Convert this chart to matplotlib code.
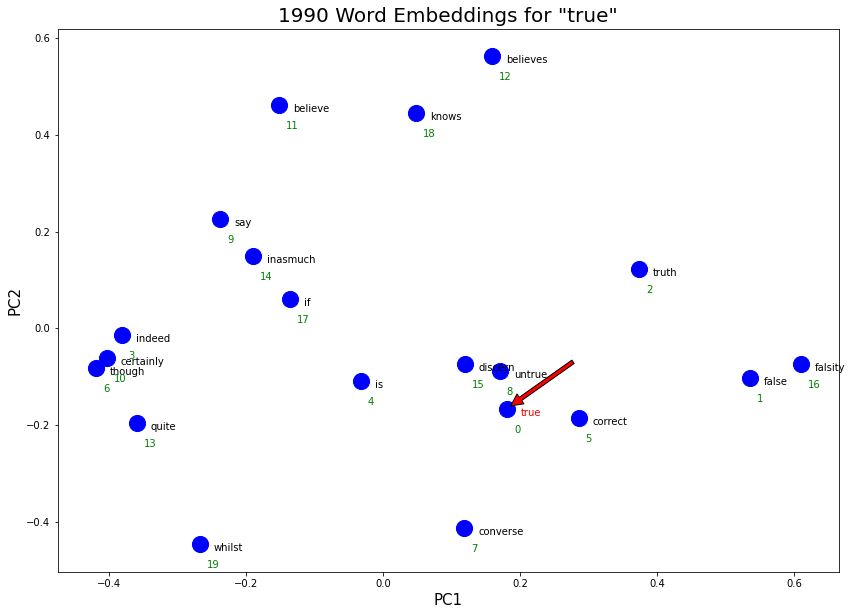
import matplotlib
matplotlib.use("Agg")
import matplotlib.pyplot as plt

words = ["true", "false", "truth", "indeed", "is", "correct", "though", "converse",
         "untrue", "say", "certainly", "believe", "believes", "quite", "inasmuch",
         "discern", "falsity", "if", "knows", "whilst"]
pc1 = [0.181, 0.535, 0.373, -0.382, -0.033, 0.285, -0.419, 0.118,
       0.170, -0.238, -0.404, -0.152, 0.159, -0.360, -0.190,
       0.119, 0.610, -0.136, 0.048, -0.268]
pc2 = [-0.167, -0.102, 0.123, -0.014, -0.109, -0.186, -0.082, -0.412,
       -0.089, 0.226, -0.062, 0.461, 0.562, -0.196, 0.150,
       -0.074, -0.074, 0.061, 0.444, -0.446]
target_word = "true"
arrow_tail = (0.277, -0.069)
arrow_head = (0.186, -0.160)

fig = plt.figure(figsize=(852 / 72, 615 / 72), dpi=72)
ax = fig.add_axes([57.5 / 852, (615 - 572) / 615, (839 - 57.5) / 852, (572 - 28.5) / 615])

ax.scatter(pc1, pc2, s=260, color="blue", zorder=2)
for i, (w, x, y) in enumerate(zip(words, pc1, pc2)):
    ax.annotate(w, (x, y), xytext=(14, -4), textcoords="offset points",
                ha="left", va="center", fontsize=10,
                color="red" if w == target_word else "black", zorder=3)
    ax.annotate(str(i), (x, y), xytext=(7, -21), textcoords="offset points",
                ha="left", va="center", fontsize=10, color="green", zorder=3)

ax.annotate("", xy=arrow_head, xytext=arrow_tail,
            arrowprops=dict(facecolor="red", edgecolor="black", width=4,
                            headwidth=12, headlength=12, shrink=0, lw=1),
            zorder=4)

ax.set_xlim(-0.4756, 0.6653)
ax.set_ylim(-0.5033, 0.6196)
ax.set_xticks([-0.4, -0.2, 0.0, 0.2, 0.4, 0.6])
ax.set_yticks([-0.4, -0.2, 0.0, 0.2, 0.4, 0.6])
ax.tick_params(labelsize=10)
ax.set_xlabel("PC1", fontsize=15)
ax.set_ylabel("PC2", fontsize=15)
ax.set_title('1990 Word Embeddings for "true"', fontsize=20)

fig.savefig("out.png", dpi=72)
